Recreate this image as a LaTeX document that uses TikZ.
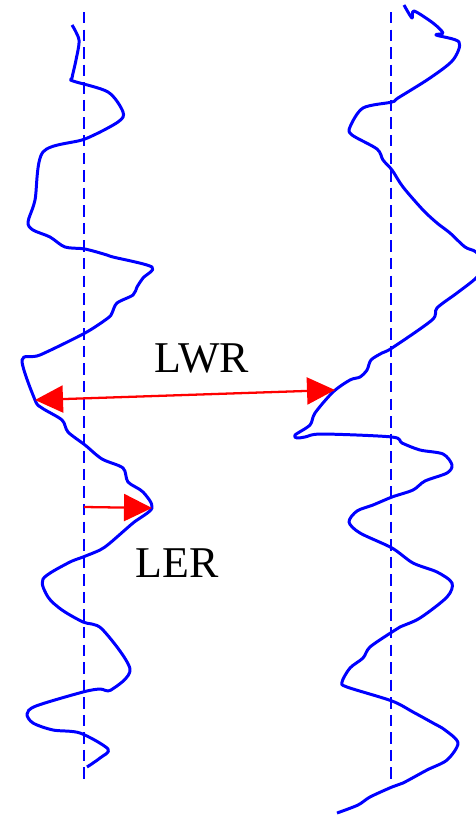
\documentclass[tikz,border=0pt]{standalone}
\usepackage{fontspec}
\setmainfont{Liberation Serif}
\usetikzlibrary{arrows.meta}

\begin{document}
\begin{tikzpicture}[x=0.02cm, y=-0.02cm, >={Triangle[length=0.56cm, width=0.54cm]},
    bord/.style={blue, line width=1.7pt, line join=round},
    axe/.style={blue, line width=1.7pt, dash pattern=on 6.5pt off 3.5pt},
    cote/.style={red, line width=1.3pt},
    etiq/.style={font=\rmfamily\fontsize{25}{30}\selectfont}]
  \useasboundingbox (0,0) rectangle (476,815);
  % Lignes moyennes des deux bords
  \draw[axe] (84,12) -- (84,780);
  \draw[axe] (391,12) -- (391,780);
  % Bord gauche
  \draw[bord] plot[smooth, tension=0.5] coordinates {
      (72,25) (79,40) (76,60) (72,78) (73,81) (108,92) (123,112) (118,122)
      (85,139) (43,152) (35,200) (28,222) (33,230) (50,237) (65,247) (85,249)
      (107,255) (113,257) (152,267) (143,278) (137,287) (133,295) (117,303)
      (112,313) (108,318) (85,333) (40,355) (22,360) (35,400) (42,408)
      (62,420) (68,432) (85,445) (102,459) (123,468) (128,482) (143,492)
      (152,508) (133,523) (110,543) (100,550) (83,557) (68,563) (43,579)
      (48,597) (62,610) (83,622) (102,629) (130,669) (111,690) (100,689)
      (83,692) (36,706) (27,714) (33,723) (53,730) (80,733) (108,749)
      (100,758) (87,767)};
  % Bord droit
  \draw[bord] plot[smooth, tension=0.5] coordinates {
      (404,5) (412,18) (414,11) (433,23) (443,33) (436,35) (459,42) (453,60)
      (430,78) (398,98) (392,102) (363,108) (350,127) (352,135) (377,149)
      (383,160) (392,170) (403,187) (423,210) (437,223) (450,233) (465,247)
      (476,252) (484,265) (476,278) (457,293) (437,308) (432,320) (392,348)
      (382,353) (371,360) (367,370) (360,377) (350,380) (333,392) (315,413)
      (310,425) (295,435) (297,438) (305,437) (322,434) (392,437) (402,443)
      (420,450) (443,454) (452,465) (447,473) (425,481) (413,490) (392,497)
      (373,505) (357,511) (349,522) (360,533) (392,548) (413,563) (437,572)
      (452,583) (447,597) (420,618) (400,627) (392,632) (370,647) (363,658)
      (350,668) (342,682) (347,687) (392,701) (413,712) (433,723) (445,730)
      (458,743) (447,760) (427,770) (403,783) (392,787) (370,797) (358,805)
      (337,813)};
  % Etiquettes
  \node[etiq] (lwr) at (202,358) {LWR};
  \node[etiq] (ler) at (177,563) {LER};
  % Fleches de cote
  \coordinate (lwrG) at (35,400);
  \coordinate (lwrD) at (335,390);
  \coordinate (lerO) at (84,507);
  \coordinate (lerB) at (152,508);
  \draw[cote, <->] (lwrG) -- (lwrD);
  \draw[cote, ->] (lerO) -- (lerB);
\end{tikzpicture}
\end{document}
